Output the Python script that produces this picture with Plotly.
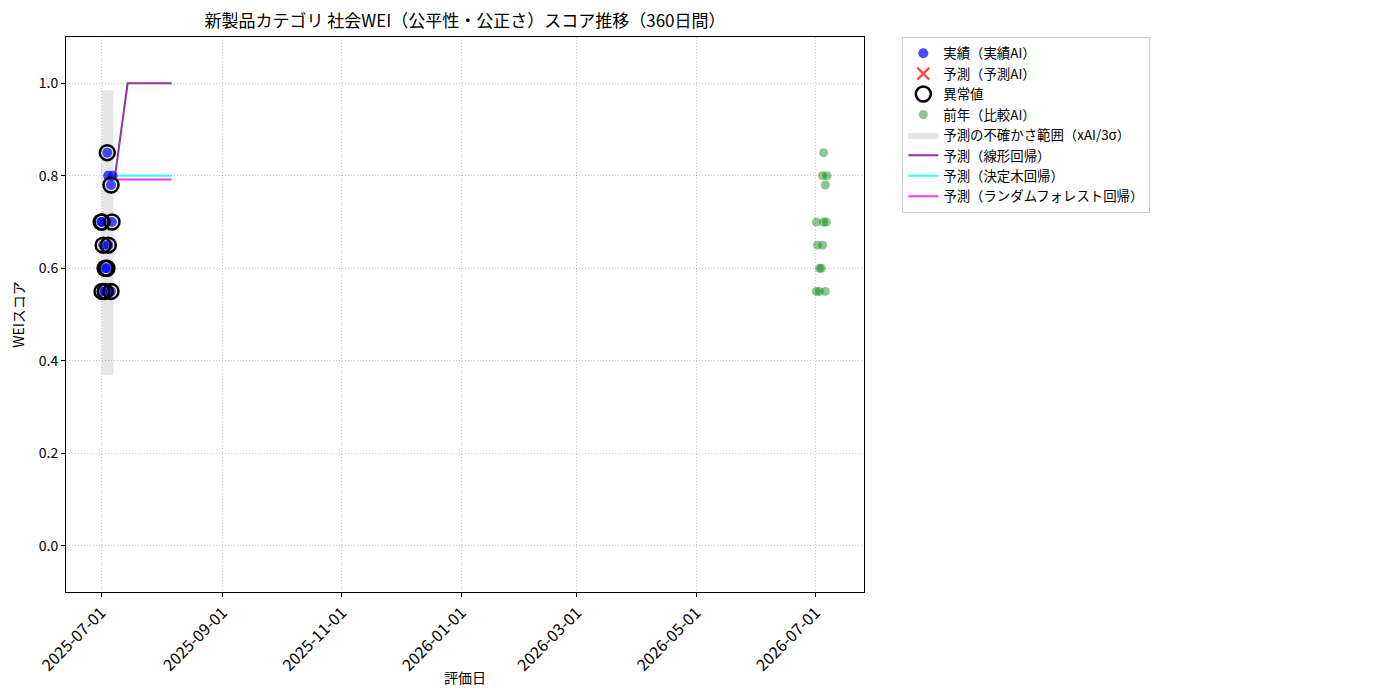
import plotly.graph_objects as go

actual_dates = ["2025-07-01 10:00", "2025-07-01 10:00", "2025-07-02 00:00", "2025-07-03 00:00",
                "2025-07-03 00:00", "2025-07-03 22:00", "2025-07-04 02:00", "2025-07-04 14:00",
                "2025-07-04 14:00", "2025-07-06 00:00", "2025-07-06 00:00", "2025-07-06 12:00",
                "2025-07-06 20:00", "2025-07-01 00:00"]
actual_scores = [0.70, 0.55, 0.65, 0.60, 0.55, 0.60, 0.85, 0.80,
                 0.65, 0.78, 0.55, 0.70, 0.80, 0.70]
outlier_flags = [1, 1, 1, 1, 1, 1, 1, 0, 1, 1, 1, 1, 0, 1]

# previous year (比較AI), plotted one year later
prev_dates = ["2026-07-01 10:00", "2026-07-01 10:00", "2026-07-02 00:00", "2026-07-03 00:00",
              "2026-07-03 00:00", "2026-07-03 22:00", "2026-07-05 02:00", "2026-07-04 14:00",
              "2026-07-04 14:00", "2026-07-06 00:00", "2026-07-06 00:00", "2026-07-06 12:00",
              "2026-07-06 20:00", "2026-07-05 02:00"]
prev_scores = [0.70, 0.55, 0.65, 0.60, 0.55, 0.60, 0.85, 0.80,
               0.65, 0.78, 0.55, 0.70, 0.80, 0.70]

# uncertainty band (3 sigma)
band_dates = ["2025-07-01 06:00", "2025-07-07 06:00"]
band_low = 0.369
band_high = 0.985

# forecasts
linear_dates = ["2025-07-07 18:00", "2025-07-14 12:00", "2025-08-06"]
linear_vals = [0.79, 1.0, 1.0]
tree_dates = ["2025-07-08 12:00", "2025-08-06"]
tree_vals = [0.80, 0.80]
forest_dates = ["2025-07-08 12:00", "2025-08-06"]
forest_vals = [0.792, 0.792]

x_range = ["2025-06-13", "2026-07-25 18:00"]
y_range = [-0.1, 1.1]

FONT = "Noto Sans CJK JP"

fig = go.Figure()

fig.add_trace(go.Scatter(
    x=[band_dates[0], band_dates[1], band_dates[1], band_dates[0], band_dates[0]],
    y=[band_low, band_low, band_high, band_high, band_low],
    fill="toself", fillcolor="rgba(128,128,128,0.2)", mode="lines",
    line=dict(width=0, color="rgba(128,128,128,0.2)"),
    name="予測の不確かさ範囲（xAI/3σ）", legendrank=5, hoverinfo="skip"))

fig.add_trace(go.Scatter(
    x=linear_dates, y=linear_vals, mode="lines",
    line=dict(color="#8B1A9A", width=2), opacity=0.9,
    name="予測（線形回帰）", legendrank=6))
fig.add_trace(go.Scatter(
    x=tree_dates, y=tree_vals, mode="lines",
    line=dict(color="#00FFFF", width=2), opacity=0.8,
    name="予測（決定木回帰）", legendrank=7))
fig.add_trace(go.Scatter(
    x=forest_dates, y=forest_vals, mode="lines",
    line=dict(color="#FF00FF", width=2), opacity=0.8,
    name="予測（ランダムフォレスト回帰）", legendrank=8))

fig.add_trace(go.Scatter(
    x=prev_dates, y=prev_scores, mode="markers",
    marker=dict(color="rgba(0,128,0,0.45)", size=9, line=dict(width=0)),
    name="前年（比較AI）", legendrank=4))

fig.add_trace(go.Scatter(
    x=actual_dates, y=actual_scores, mode="markers",
    marker=dict(color="rgba(0,0,255,0.7)", size=10, line=dict(width=0)),
    name="実績（実績AI）", legendrank=1))

fig.add_trace(go.Scatter(
    x=[None], y=[None], mode="markers",
    marker=dict(symbol="x-thin", color="rgba(255,0,0,0.7)", size=12,
                line=dict(width=2.5, color="rgba(255,0,0,0.7)")),
    name="予測（予測AI）", legendrank=2))

out_x = [d for d, f in zip(actual_dates, outlier_flags) if f]
out_y = [v for v, f in zip(actual_scores, outlier_flags) if f]
fig.add_trace(go.Scatter(
    x=out_x, y=out_y, mode="markers",
    marker=dict(symbol="circle-open", color="black", size=15, line=dict(width=2.5)),
    name="異常値", legendrank=3))

axis_common = dict(
    showline=True, linecolor="black", linewidth=1, mirror=True,
    ticks="outside", ticklen=4, tickcolor="black",
    showgrid=True, gridcolor="rgba(0,0,0,0.22)", griddash="1px,2px", gridwidth=1,
    zeroline=False, automargin=False,
)

fig.update_layout(
    width=1400, height=700,
    paper_bgcolor="white", plot_bgcolor="white",
    font=dict(family=FONT, size=14, color="black"),
    margin=dict(l=58, r=544, t=29, b=116),
    title=dict(text="新製品カテゴリ 社会WEI（公平性・公正さ）スコア推移（360日間）",
               x=(58 + 856) / 2 / 1400, xanchor="center", y=0.981, yanchor="middle",
               font=dict(size=17)),
    xaxis=dict(axis_common, type="date", range=x_range, tick0="2025-07-01", dtick="M2",
               tickformat="%Y-%m-%d", tickangle=-45, tickfont=dict(size=16, color="black")),
    yaxis=dict(axis_common, range=y_range, dtick=0.2, tick0=0, tickformat=".1f",
               tickfont=dict(size=14, color="black"),
               title=dict(text="WEIスコア", font=dict(size=14), standoff=14)),
    legend=dict(x=1.048, y=1.0, xanchor="left", yanchor="top",
                bordercolor="#CCCCCC", borderwidth=1, bgcolor="white",
                font=dict(size=13.4), tracegroupgap=0, itemwidth=30),
    showlegend=True,
)

fig.add_annotation(text="評価日", xref="paper", yref="paper", x=0.5, y=-0.153,
                   xanchor="center", yanchor="middle", showarrow=False,
                   font=dict(size=14))

fig.write_html("out.html")
